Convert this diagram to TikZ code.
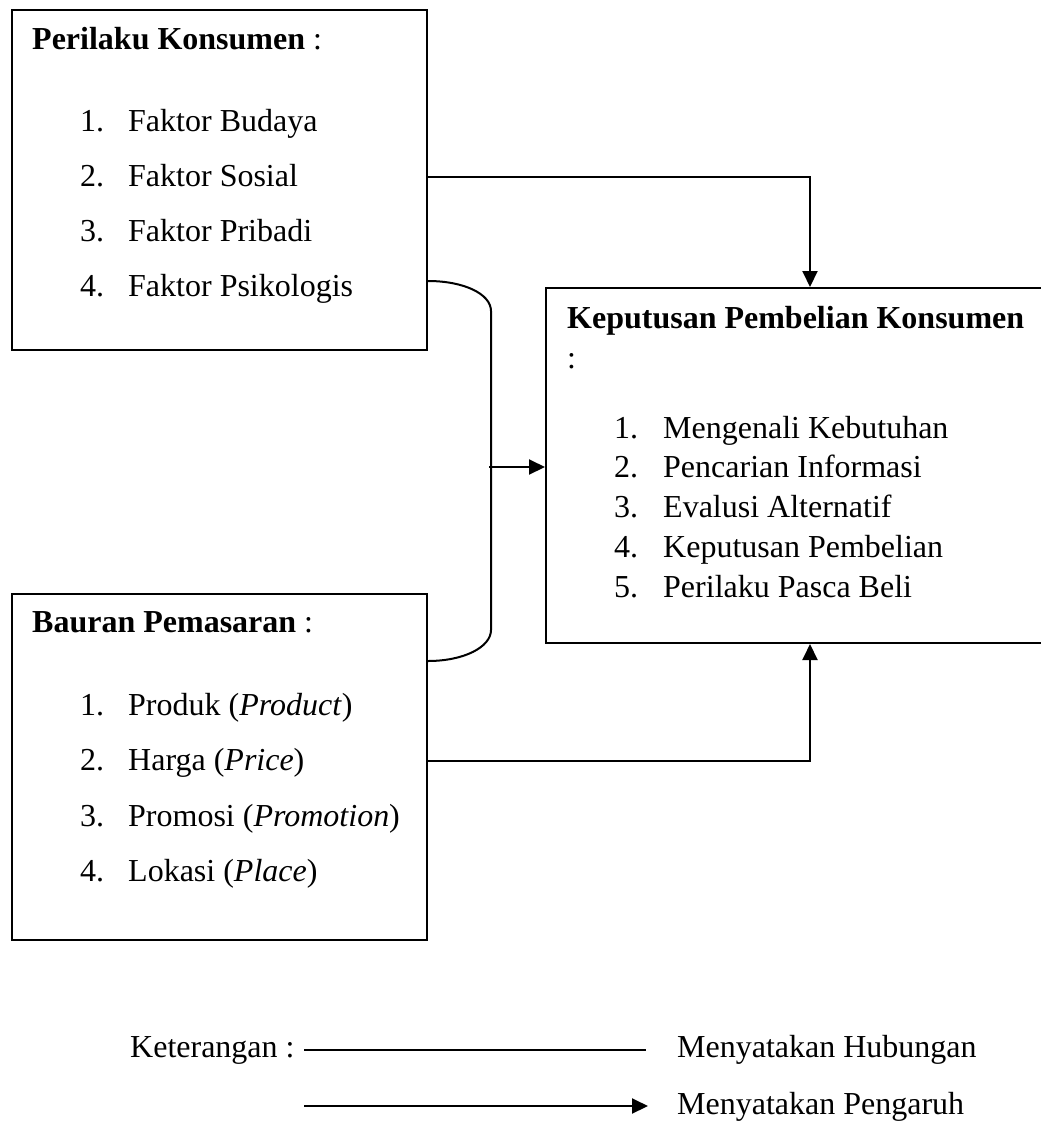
\documentclass[tikz,border=0pt]{standalone}
\usepackage{fontspec}
\setmainfont{Liberation Serif}
\usetikzlibrary{arrows.meta,calc}
\begin{document}
\begin{tikzpicture}[x=1pt,y=-1pt,
  box/.style={draw,line width=2pt,inner sep=0pt,anchor=north west},
  txt/.style={inner sep=0pt,anchor=base west,font=\fontsize{32}{38}\selectfont},
  conn/.style={line width=2pt},
  arr/.style={line width=2pt,-{Triangle[length=16pt,width=15pt]}}]
\useasboundingbox (0,0) rectangle (1041,1122);
% boxes
\node[box,minimum width=415pt,minimum height=340pt] (pk) at (11,9) {};
\node[box,minimum width=505pt,minimum height=355pt] (kp) at (545,287) {};
\node[box,minimum width=415pt,minimum height=346pt] (bp) at (11,593) {};
% Perilaku Konsumen
\node[txt] (pkh) at (32,49) {\textbf{Perilaku Konsumen} :};
\node[txt] (pk1n) at (80,131) {1.};
\node[txt] (pk1) at (128,131) {Faktor Budaya};
\node[txt] (pk2n) at (80,186) {2.};
\node[txt] (pk2) at (128,186) {Faktor Sosial};
\node[txt] (pk3n) at (80,241) {3.};
\node[txt] (pk3) at (128,241) {Faktor Pribadi};
\node[txt] (pk4n) at (80,296) {4.};
\node[txt] (pk4) at (128,296) {Faktor Psikologis};
% Keputusan Pembelian Konsumen
\node[txt] (kph) at (567,328) {\textbf{Keputusan Pembelian Konsumen}};
\node[txt] (kpc) at (567,368) {:};
\node[txt] (kp1n) at (614,438) {1.};
\node[txt] (kp1) at (663,438) {Mengenali Kebutuhan};
\node[txt] (kp2n) at (614,477) {2.};
\node[txt] (kp2) at (663,477) {Pencarian Informasi};
\node[txt] (kp3n) at (614,517) {3.};
\node[txt] (kp3) at (663,517) {Evalusi Alternatif};
\node[txt] (kp4n) at (614,557) {4.};
\node[txt] (kp4) at (663,557) {Keputusan Pembelian};
\node[txt] (kp5n) at (614,597) {5.};
\node[txt] (kp5) at (663,597) {Perilaku Pasca Beli};
% Bauran Pemasaran
\node[txt] (bph) at (32,632) {\textbf{Bauran Pemasaran} :};
\node[txt] (bp1n) at (80,715) {1.};
\node[txt] (bp1) at (128,715) {Produk (\textit{Product})};
\node[txt] (bp2n) at (80,770) {2.};
\node[txt] (bp2) at (128,770) {Harga (\textit{Price})};
\node[txt] (bp3n) at (80,826) {3.};
\node[txt] (bp3) at (128,826) {Promosi (\textit{Promotion})};
\node[txt] (bp4n) at (80,881) {4.};
\node[txt] (bp4) at (128,881) {Lokasi (\textit{Place})};
% connectors
\draw[arr] ($(pk.north east)+(0,168)$) -| ($(kp.north west)+(265,0)$);
\draw[arr] ($(bp.north east)+(0,168)$) -| ($(kp.south west)+(265,0)$);
\coordinate (bt) at (491,311);
\coordinate (bb) at (491,630);
\draw[conn] ($(pk.north east)+(0,272)$) .. controls +(36,0) and +(0,-17) .. (bt)
   -- (bb) .. controls +(0,17) and +(36,0) .. ($(bp.north east)+(0,68)$);
\coordinate (mid) at (489,467);
\draw[arr] (mid) -- (kp.west |- mid);
% legend
\node[txt] (ket) at (130,1057) {Keterangan :};
\node[txt] (hub) at (677,1057) {Menyatakan Hubungan};
\node[txt] (pen) at (677,1114) {Menyatakan Pengaruh};
\coordinate (l1a) at (304,1050);
\coordinate (l1b) at (646,1050);
\draw[conn] (l1a) -- (l1b);
\coordinate (l2a) at (304,1106);
\coordinate (l2b) at (648,1106);
\draw[arr] (l2a) -- (l2b);
\end{tikzpicture}
\end{document}
